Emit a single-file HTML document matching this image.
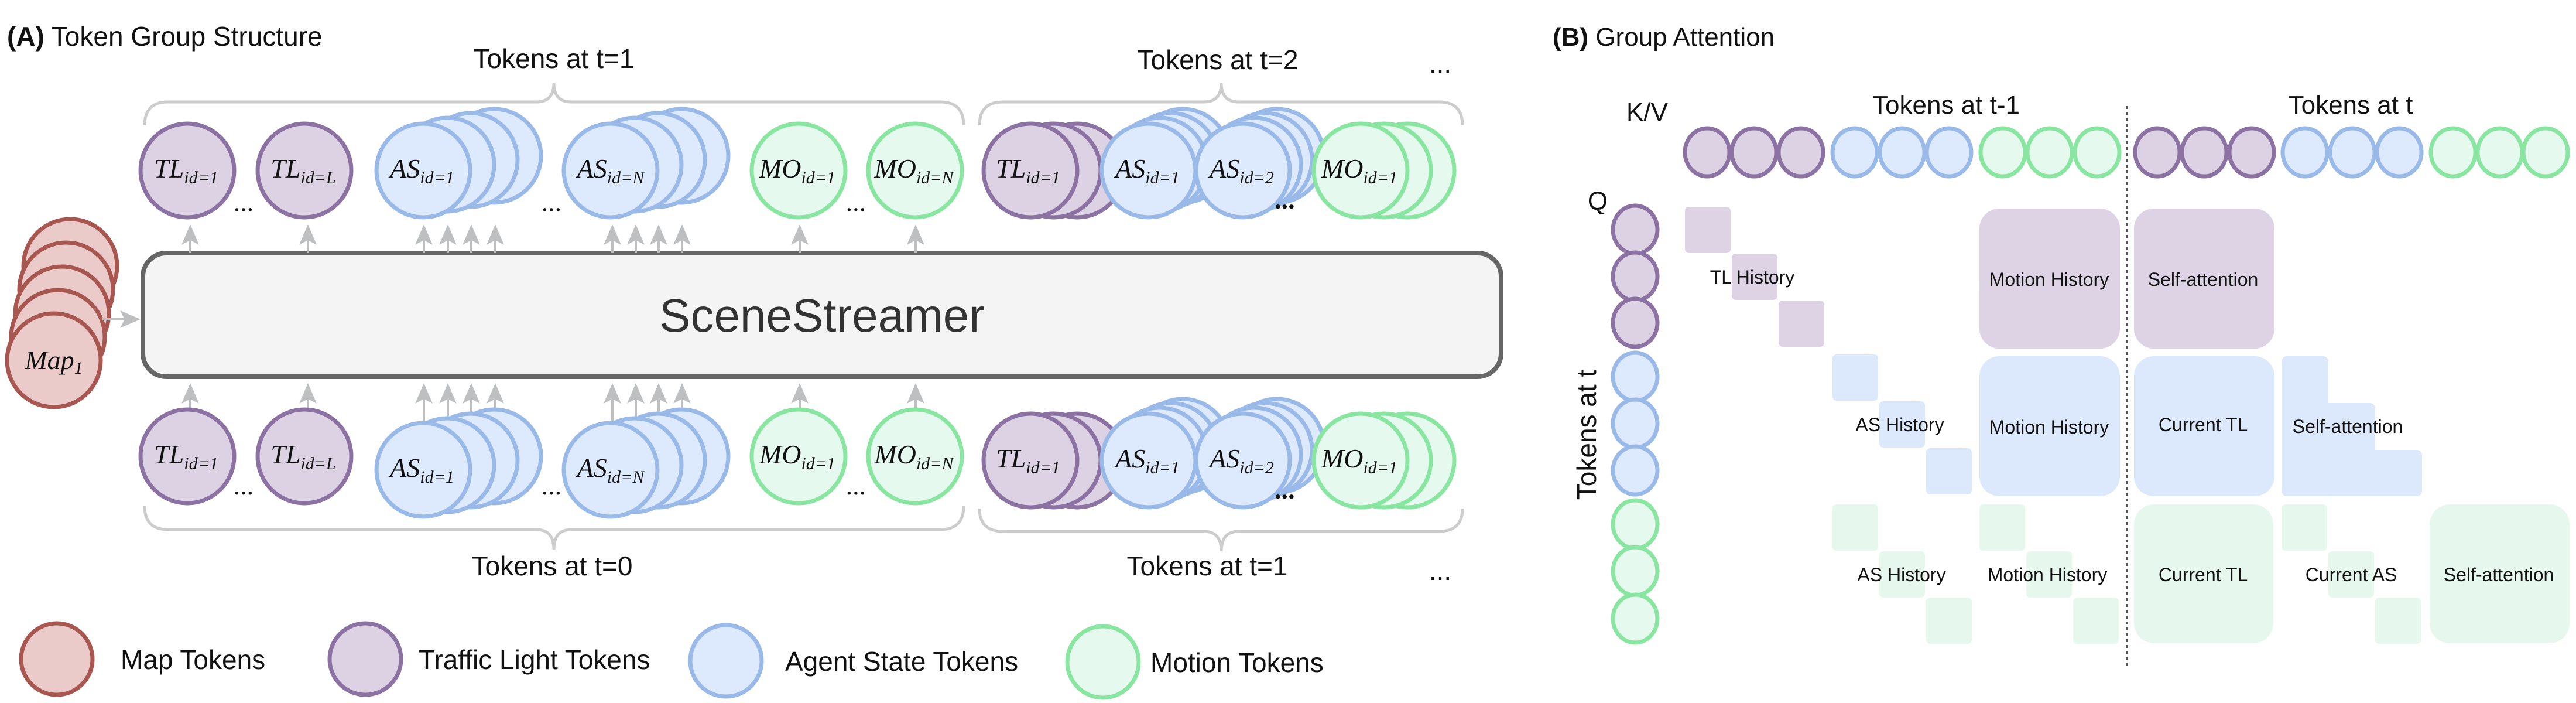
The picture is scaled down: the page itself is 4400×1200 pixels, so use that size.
<!DOCTYPE html>
<html><head><meta charset="utf-8"><style>
html,body{margin:0;padding:0;background:#fff}
svg{display:block}
.p{fill:#dcd2e4;stroke:#8c72a3;stroke-width:7}
.b{fill:#dde9fc;stroke:#99b9e8;stroke-width:7}
.g{fill:#e6f9ee;stroke:#88e6a0;stroke-width:7}
.m{fill:#eacbca;stroke:#a85750;stroke-width:7}
.pc{fill:#ddd3e5}.bc{fill:#dce8fb}.gc{fill:#e6f8ed}
.t{font-family:"Liberation Sans",sans-serif;fill:#111}
.mt{font-family:"Liberation Serif",serif;font-style:italic;fill:#111;font-size:46px}
.ar{stroke:#bdbfc1;stroke-width:4;fill:none}
.ah{fill:#bdbfc1}
.br{stroke:#cccccc;stroke-width:5;fill:none}
</style></head><body>
<svg width="4400" height="1200" viewBox="0 0 4400 1200" xmlns="http://www.w3.org/2000/svg">
<!-- Panel A titles -->
<text class="t" x="12" y="78" font-size="46"><tspan font-weight="bold">(A)</tspan> Token Group Structure</text>
<text class="t" x="946" y="116" font-size="46" text-anchor="middle">Tokens at t=1</text>
<text class="t" x="2080" y="118" font-size="46" text-anchor="middle">Tokens at t=2</text>
<text class="t" x="2460" y="124" font-size="46" text-anchor="middle">...</text>
<text class="t" x="943" y="982" font-size="46" text-anchor="middle">Tokens at t=0</text>
<text class="t" x="2062" y="982" font-size="46" text-anchor="middle">Tokens at t=1</text>
<text class="t" x="2460" y="990" font-size="46" text-anchor="middle">...</text>

<!-- brackets -->
<path class="br" d="M247,214 Q247,174 287,174 L916,174 Q946,174 946,142 Q946,174 976,174 L1606,174 Q1646,174 1646,214"/>
<path class="br" d="M1673,214 Q1673,174 1713,174 L2056,174 Q2086,174 2086,142 Q2086,174 2116,174 L2458,174 Q2498,174 2498,214"/>
<path class="br" d="M247,864 Q247,904 287,904 L916,904 Q946,904 946,938 Q946,904 976,904 L1606,904 Q1646,904 1646,864"/>
<path class="br" d="M1673,868 Q1673,907 1713,907 L2056,907 Q2086,907 2086,941 Q2086,907 2116,907 L2458,907 Q2498,907 2498,868"/>

<!-- SceneStreamer box -->
<rect x="244" y="432" width="2320" height="211" rx="40" fill="#f4f4f4" stroke="#666" stroke-width="8"/>
<text x="1404" y="566" font-size="80" text-anchor="middle" font-family="Liberation Sans,sans-serif" fill="#333">SceneStreamer</text>

<!-- map stack -->
<circle class="m" cx="120" cy="454" r="80"/>
<circle class="m" cx="113" cy="494" r="80"/>
<circle class="m" cx="106" cy="535" r="80"/>
<circle class="m" cx="99" cy="575" r="80"/>
<circle class="m" cx="92" cy="615" r="80"/>
<text class="mt" x="92" y="630" text-anchor="middle">Map<tspan font-size="30" dy="8">1</tspan></text>
<line class="ar" x1="175" y1="545" x2="222" y2="545"/>
<path class="ah" d="M240,545 L205,530 L213,545 L205,560 Z"/>

<!-- top arrows -->
<g>
<line class="ar" x1="325" y1="405" x2="325" y2="432"/><path class="ah" d="M325,383 L340,418 L325,410 L310,418Z"/>
<line class="ar" x1="526" y1="405" x2="526" y2="432"/><path class="ah" d="M526,383 L541,418 L526,410 L511,418Z"/>
<line class="ar" x1="724" y1="405" x2="724" y2="432"/><path class="ah" d="M724,383 L739,418 L724,410 L709,418Z"/>
<line class="ar" x1="765" y1="405" x2="765" y2="432"/><path class="ah" d="M765,383 L780,418 L765,410 L750,418Z"/>
<line class="ar" x1="805" y1="405" x2="805" y2="432"/><path class="ah" d="M805,383 L820,418 L805,410 L790,418Z"/>
<line class="ar" x1="846" y1="405" x2="846" y2="432"/><path class="ah" d="M846,383 L861,418 L846,410 L831,418Z"/>
<line class="ar" x1="1046" y1="405" x2="1046" y2="432"/><path class="ah" d="M1046,383 L1061,418 L1046,410 L1031,418Z"/>
<line class="ar" x1="1086" y1="405" x2="1086" y2="432"/><path class="ah" d="M1086,383 L1101,418 L1086,410 L1071,418Z"/>
<line class="ar" x1="1125" y1="405" x2="1125" y2="432"/><path class="ah" d="M1125,383 L1140,418 L1125,410 L1110,418Z"/>
<line class="ar" x1="1165" y1="405" x2="1165" y2="432"/><path class="ah" d="M1165,383 L1180,418 L1165,410 L1150,418Z"/>
<line class="ar" x1="1366" y1="405" x2="1366" y2="432"/><path class="ah" d="M1366,383 L1381,418 L1366,410 L1351,418Z"/>
<line class="ar" x1="1564" y1="405" x2="1564" y2="432"/><path class="ah" d="M1564,383 L1579,418 L1564,410 L1549,418Z"/>
</g>
<!-- bottom arrows -->
<g>
<line class="ar" x1="325" y1="680" x2="325" y2="696"/><path class="ah" d="M325,654 L340,689 L325,681 L310,689Z"/>
<line class="ar" x1="526" y1="680" x2="526" y2="696"/><path class="ah" d="M526,654 L541,689 L526,681 L511,689Z"/>
<line class="ar" x1="724" y1="680" x2="724" y2="719"/><path class="ah" d="M724,654 L739,689 L724,681 L709,689Z"/>
<line class="ar" x1="765" y1="680" x2="765" y2="711"/><path class="ah" d="M765,654 L780,689 L765,681 L750,689Z"/>
<line class="ar" x1="805" y1="680" x2="805" y2="703"/><path class="ah" d="M805,654 L820,689 L805,681 L790,689Z"/>
<line class="ar" x1="846" y1="680" x2="846" y2="696"/><path class="ah" d="M846,654 L861,689 L846,681 L831,689Z"/>
<line class="ar" x1="1046" y1="680" x2="1046" y2="719"/><path class="ah" d="M1046,654 L1061,689 L1046,681 L1031,689Z"/>
<line class="ar" x1="1086" y1="680" x2="1086" y2="711"/><path class="ah" d="M1086,654 L1101,689 L1086,681 L1071,689Z"/>
<line class="ar" x1="1125" y1="680" x2="1125" y2="703"/><path class="ah" d="M1125,654 L1140,689 L1125,681 L1110,689Z"/>
<line class="ar" x1="1165" y1="680" x2="1165" y2="696"/><path class="ah" d="M1165,654 L1180,689 L1165,681 L1150,689Z"/>
<line class="ar" x1="1366" y1="680" x2="1366" y2="696"/><path class="ah" d="M1366,654 L1381,689 L1366,681 L1351,689Z"/>
<line class="ar" x1="1564" y1="680" x2="1564" y2="696"/><path class="ah" d="M1564,654 L1579,689 L1564,681 L1549,689Z"/>
</g>

<!-- TOP ROW left group -->
<circle class="p" cx="320" cy="291" r="80"/>
<text class="mt" x="318" y="303" text-anchor="middle">TL<tspan font-size="30" dy="10">id=1</tspan></text>
<circle class="p" cx="520" cy="291" r="80"/>
<text class="mt" x="518" y="303" text-anchor="middle">TL<tspan font-size="30" dy="10">id=L</tspan></text>
<circle class="b" cx="844" cy="266" r="80"/><circle class="b" cx="804" cy="273" r="80"/><circle class="b" cx="764" cy="281" r="80"/><circle class="b" cx="723" cy="291" r="80"/>
<text class="mt" x="721" y="303" text-anchor="middle">AS<tspan font-size="30" dy="10">id=1</tspan></text>
<circle class="b" cx="1164" cy="266" r="80"/><circle class="b" cx="1124" cy="273" r="80"/><circle class="b" cx="1084" cy="281" r="80"/><circle class="b" cx="1043" cy="291" r="80"/>
<text class="mt" x="1043" y="303" text-anchor="middle">AS<tspan font-size="30" dy="10">id=N</tspan></text>
<circle class="g" cx="1364" cy="291" r="80"/>
<text class="mt" x="1362" y="303" text-anchor="middle">MO<tspan font-size="30" dy="10">id=1</tspan></text>
<circle class="g" cx="1563" cy="291" r="80"/>
<text class="mt" x="1561" y="303" text-anchor="middle">MO<tspan font-size="30" dy="10">id=N</tspan></text>
<text class="mt" x="417" y="360" text-anchor="middle" font-size="40">...</text>
<text class="mt" x="943" y="360" text-anchor="middle" font-size="40">...</text>
<text class="mt" x="1463" y="360" text-anchor="middle" font-size="40">...</text>

<!-- TOP ROW right group -->
<circle class="p" cx="1840" cy="291" r="80"/><circle class="p" cx="1800" cy="291" r="80"/><circle class="p" cx="1760" cy="291" r="80"/>
<text class="mt" x="1756" y="303" text-anchor="middle">TL<tspan font-size="30" dy="10">id=1</tspan></text>
<circle class="b" cx="2020" cy="266" r="80"/><circle class="b" cx="2000" cy="273" r="80"/><circle class="b" cx="1981" cy="281" r="80"/><circle class="b" cx="1962" cy="291" r="80"/>
<text class="mt" x="1960" y="303" text-anchor="middle">AS<tspan font-size="30" dy="10">id=1</tspan></text>
<circle class="b" cx="2181" cy="266" r="80"/><circle class="b" cx="2161" cy="273" r="80"/><circle class="b" cx="2142" cy="281" r="80"/><circle class="b" cx="2123" cy="291" r="80"/>
<text class="mt" x="2121" y="303" text-anchor="middle">AS<tspan font-size="30" dy="10">id=2</tspan></text>
<text class="mt" x="2196" y="356" text-anchor="middle" font-size="40" font-weight="bold">...</text>
<circle class="g" cx="2404" cy="291" r="80"/><circle class="g" cx="2364" cy="291" r="80"/><circle class="g" cx="2324" cy="291" r="80"/>
<text class="mt" x="2322" y="303" text-anchor="middle">MO<tspan font-size="30" dy="10">id=1</tspan></text>

<!-- BOTTOM ROW left group -->
<circle class="p" cx="320" cy="779" r="80"/>
<text class="mt" x="318" y="791" text-anchor="middle">TL<tspan font-size="30" dy="10">id=1</tspan></text>
<circle class="p" cx="520" cy="779" r="80"/>
<text class="mt" x="518" y="791" text-anchor="middle">TL<tspan font-size="30" dy="10">id=L</tspan></text>
<circle class="b" cx="844" cy="779" r="80"/><circle class="b" cx="804" cy="786" r="80"/><circle class="b" cx="764" cy="794" r="80"/><circle class="b" cx="723" cy="802" r="80"/>
<text class="mt" x="721" y="814" text-anchor="middle">AS<tspan font-size="30" dy="10">id=1</tspan></text>
<circle class="b" cx="1164" cy="779" r="80"/><circle class="b" cx="1124" cy="786" r="80"/><circle class="b" cx="1084" cy="794" r="80"/><circle class="b" cx="1043" cy="802" r="80"/>
<text class="mt" x="1043" y="814" text-anchor="middle">AS<tspan font-size="30" dy="10">id=N</tspan></text>
<circle class="g" cx="1364" cy="779" r="80"/>
<text class="mt" x="1362" y="791" text-anchor="middle">MO<tspan font-size="30" dy="10">id=1</tspan></text>
<circle class="g" cx="1563" cy="779" r="80"/>
<text class="mt" x="1561" y="791" text-anchor="middle">MO<tspan font-size="30" dy="10">id=N</tspan></text>
<text class="mt" x="417" y="844" text-anchor="middle" font-size="40">...</text>
<text class="mt" x="943" y="844" text-anchor="middle" font-size="40">...</text>
<text class="mt" x="1463" y="844" text-anchor="middle" font-size="40">...</text>

<!-- BOTTOM ROW right group -->
<circle class="p" cx="1840" cy="786" r="80"/><circle class="p" cx="1800" cy="786" r="80"/><circle class="p" cx="1760" cy="786" r="80"/>
<text class="mt" x="1756" y="798" text-anchor="middle">TL<tspan font-size="30" dy="10">id=1</tspan></text>
<circle class="b" cx="2020" cy="761" r="80"/><circle class="b" cx="2000" cy="768" r="80"/><circle class="b" cx="1981" cy="776" r="80"/><circle class="b" cx="1962" cy="786" r="80"/>
<text class="mt" x="1960" y="798" text-anchor="middle">AS<tspan font-size="30" dy="10">id=1</tspan></text>
<circle class="b" cx="2181" cy="761" r="80"/><circle class="b" cx="2161" cy="768" r="80"/><circle class="b" cx="2142" cy="776" r="80"/><circle class="b" cx="2123" cy="786" r="80"/>
<text class="mt" x="2121" y="798" text-anchor="middle">AS<tspan font-size="30" dy="10">id=2</tspan></text>
<text class="mt" x="2196" y="851" text-anchor="middle" font-size="40" font-weight="bold">...</text>
<circle class="g" cx="2404" cy="786" r="80"/><circle class="g" cx="2364" cy="786" r="80"/><circle class="g" cx="2324" cy="786" r="80"/>
<text class="mt" x="2322" y="798" text-anchor="middle">MO<tspan font-size="30" dy="10">id=1</tspan></text>

<!-- Legend -->
<circle class="m" cx="97" cy="1125" r="61"/>
<text class="t" x="206" y="1142" font-size="46">Map Tokens</text>
<circle class="p" cx="624" cy="1125" r="61"/>
<text class="t" x="715" y="1142" font-size="46">Traffic Light Tokens</text>
<circle class="b" cx="1240" cy="1128" r="61"/>
<text class="t" x="1341" y="1145" font-size="46">Agent State Tokens</text>
<circle class="g" cx="1884" cy="1130" r="61"/>
<text class="t" x="1965" y="1147" font-size="46">Motion Tokens</text>

<!-- Panel B -->
<text class="t" x="2652" y="78" font-size="44"><tspan font-weight="bold">(B)</tspan> Group Attention</text>
<text class="t" x="2778" y="206" font-size="44">K/V</text>
<text class="t" x="3324" y="194" font-size="44" text-anchor="middle">Tokens at t-1</text>
<text class="t" x="4015" y="194" font-size="44" text-anchor="middle">Tokens at t</text>
<text class="t" x="2729" y="358" font-size="44" text-anchor="middle">Q</text>
<text class="t" font-size="46" text-anchor="middle" transform="translate(2726,742) rotate(-90)">Tokens at t</text>
<line x1="3633" y1="181" x2="3633" y2="1136" stroke="#555" stroke-width="3" stroke-dasharray="5,5"/>

<!-- K/V circles -->
<g stroke-width="7">
<ellipse class="p" cx="2916" cy="260" rx="38" ry="41"/><ellipse class="p" cx="2996" cy="260" rx="38" ry="41"/><ellipse class="p" cx="3076" cy="260" rx="38" ry="41"/>
<ellipse class="b" cx="3168" cy="260" rx="38" ry="41"/><ellipse class="b" cx="3249" cy="260" rx="38" ry="41"/><ellipse class="b" cx="3329" cy="260" rx="38" ry="41"/>
<ellipse class="g" cx="3421" cy="260" rx="38" ry="41"/><ellipse class="g" cx="3501" cy="260" rx="38" ry="41"/><ellipse class="g" cx="3582" cy="260" rx="38" ry="41"/>
<ellipse class="p" cx="3685" cy="260" rx="38" ry="41"/><ellipse class="p" cx="3765" cy="260" rx="38" ry="41"/><ellipse class="p" cx="3846" cy="260" rx="38" ry="41"/>
<ellipse class="b" cx="3937" cy="260" rx="38" ry="41"/><ellipse class="b" cx="4018" cy="260" rx="38" ry="41"/><ellipse class="b" cx="4098" cy="260" rx="38" ry="41"/>
<ellipse class="g" cx="4190" cy="260" rx="38" ry="41"/><ellipse class="g" cx="4270" cy="260" rx="38" ry="41"/><ellipse class="g" cx="4348" cy="260" rx="38" ry="41"/>
</g>
<!-- Q circles -->
<ellipse class="p" cx="2793" cy="392" rx="38" ry="41"/><ellipse class="p" cx="2793" cy="472" rx="38" ry="41"/><ellipse class="p" cx="2793" cy="551" rx="38" ry="41"/>
<ellipse class="b" cx="2793" cy="643" rx="38" ry="41"/><ellipse class="b" cx="2793" cy="723" rx="38" ry="41"/><ellipse class="b" cx="2793" cy="803" rx="38" ry="41"/>
<ellipse class="g" cx="2793" cy="895" rx="38" ry="41"/><ellipse class="g" cx="2793" cy="975" rx="38" ry="41"/><ellipse class="g" cx="2793" cy="1056" rx="38" ry="41"/>

<!-- purple rows -->
<rect class="pc" x="2878" y="353" width="78" height="79" rx="7"/>
<rect class="pc" x="2958" y="433" width="78" height="79" rx="7"/>
<rect class="pc" x="3038" y="513" width="78" height="79" rx="7"/>
<rect class="pc" x="3381" y="356" width="240" height="239" rx="34"/>
<rect class="pc" x="3645" y="356" width="240" height="239" rx="34"/>
<!-- blue rows -->
<rect class="bc" x="3130" y="605" width="78" height="79" rx="7"/>
<rect class="bc" x="3210" y="685" width="78" height="79" rx="7"/>
<rect class="bc" x="3290" y="765" width="78" height="79" rx="7"/>
<rect class="bc" x="3381" y="608" width="240" height="239" rx="34"/>
<rect class="bc" x="3645" y="608" width="240" height="239" rx="34"/>
<rect class="bc" x="3897" y="608" width="80" height="239" rx="9"/>
<rect class="bc" x="3897" y="688" width="160" height="159" rx="9"/>
<rect class="bc" x="3897" y="768" width="240" height="79" rx="9"/>
<!-- green rows -->
<rect class="gc" x="3130" y="861" width="78" height="79" rx="7"/>
<rect class="gc" x="3210" y="941" width="78" height="79" rx="7"/>
<rect class="gc" x="3290" y="1020" width="78" height="79" rx="7"/>
<rect class="gc" x="3381" y="861" width="78" height="79" rx="7"/>
<rect class="gc" x="3461" y="941" width="78" height="79" rx="7"/>
<rect class="gc" x="3541" y="1020" width="78" height="79" rx="7"/>
<rect class="gc" x="3645" y="861" width="238" height="237" rx="34"/>
<rect class="gc" x="3897" y="861" width="78" height="79" rx="7"/>
<rect class="gc" x="3977" y="941" width="78" height="79" rx="7"/>
<rect class="gc" x="4057" y="1020" width="78" height="79" rx="7"/>
<rect class="gc" x="4150" y="861" width="239" height="237" rx="34"/>

<g class="t" font-size="32" text-anchor="middle">
<text x="2993" y="484">TL History</text>
<text x="3500" y="488">Motion History</text>
<text x="3763" y="488">Self-attention</text>
<text x="3245" y="736">AS History</text>
<text x="3500" y="740">Motion History</text>
<text x="3763" y="736">Current TL</text>
<text x="4010" y="739">Self-attention</text>
<text x="3248" y="992">AS History</text>
<text x="3497" y="992">Motion History</text>
<text x="3763" y="992">Current TL</text>
<text x="4016" y="992">Current AS</text>
<text x="4268" y="992">Self-attention</text>
</g>
</svg>
</body></html>
